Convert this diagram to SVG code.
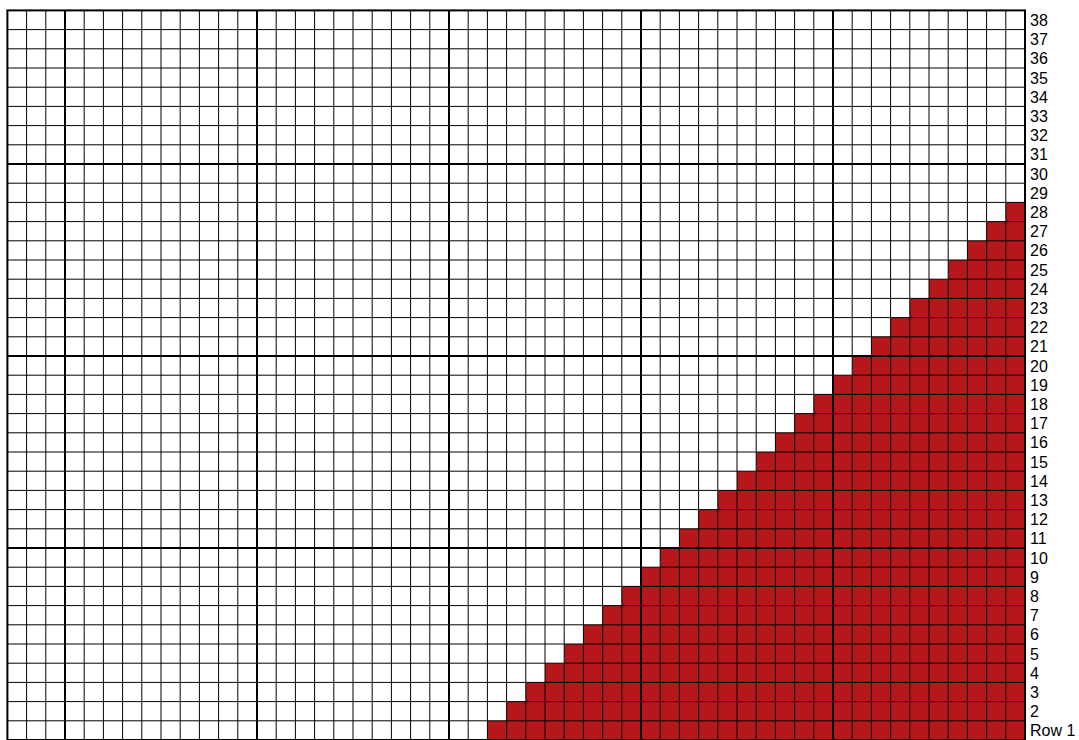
<svg xmlns="http://www.w3.org/2000/svg" width="1079" height="740" viewBox="0 0 1079 740">
<style>
.thin{fill:none;stroke:#000;stroke-width:1}
.thick{fill:none;stroke:#000;stroke-width:2}
.fill{fill:#B5171A;stroke:none}
.lbl{font-family:"Liberation Sans",Arial,sans-serif;font-size:16px;fill:#000}
</style>
<rect x="0" y="0" width="1079" height="740" fill="#fff"/>
<g id="filled-cells">
<path class="fill" d="M1025 740V202.4H1005.8V221.6H986.6V240.8H967.4V260H948.2V279.2H929V298.4H909.8V317.6H890.6V336.8H871.4V356H852.2V375.2H833V394.4H813.8V413.6H794.6V432.8H775.4V452H756.2V471.2H737V490.4H717.8V509.6H698.6V528.8H679.4V548H660.2V567.2H641V586.4H621.8V605.6H602.6V624.8H583.4V644H564.2V663.2H545V682.4H525.8V701.6H506.6V720.8H487.4V740Z"/>
</g>
<g id="grid">
<path class="thin" d="M26.6 10.4V740M45.8 10.4V740M84.2 10.4V740M103.4 10.4V740M122.6 10.4V740M141.8 10.4V740M161 10.4V740M180.2 10.4V740M199.4 10.4V740M218.6 10.4V740M237.8 10.4V740M276.2 10.4V740M295.4 10.4V740M314.6 10.4V740M333.8 10.4V740M353 10.4V740M372.2 10.4V740M391.4 10.4V740M410.6 10.4V740M429.8 10.4V740M468.2 10.4V740M487.4 10.4V740M506.6 10.4V740M525.8 10.4V740M545 10.4V740M564.2 10.4V740M583.4 10.4V740M602.6 10.4V740M621.8 10.4V740M660.2 10.4V740M679.4 10.4V740M698.6 10.4V740M717.8 10.4V740M737 10.4V740M756.2 10.4V740M775.4 10.4V740M794.6 10.4V740M813.8 10.4V740M852.2 10.4V740M871.4 10.4V740M890.6 10.4V740M909.8 10.4V740M929 10.4V740M948.2 10.4V740M967.4 10.4V740M986.6 10.4V740M1005.8 10.4V740"/>
<path class="thin" d="M7.4 29.6H1025M7.4 48.8H1025M7.4 68H1025M7.4 87.2H1025M7.4 106.4H1025M7.4 125.6H1025M7.4 144.8H1025M7.4 183.2H1025M7.4 202.4H1025M7.4 221.6H1025M7.4 240.8H1025M7.4 260H1025M7.4 279.2H1025M7.4 298.4H1025M7.4 317.6H1025M7.4 336.8H1025M7.4 375.2H1025M7.4 394.4H1025M7.4 413.6H1025M7.4 432.8H1025M7.4 452H1025M7.4 471.2H1025M7.4 490.4H1025M7.4 509.6H1025M7.4 528.8H1025M7.4 567.2H1025M7.4 586.4H1025M7.4 605.6H1025M7.4 624.8H1025M7.4 644H1025M7.4 663.2H1025M7.4 682.4H1025M7.4 701.6H1025M7.4 720.8H1025"/>
<path class="thick" d="M65 10.4V740M257 10.4V740M449 10.4V740M641 10.4V740M833 10.4V740M7.4 164H1025M7.4 356H1025M7.4 548H1025"/>
<rect class="thick" x="7.4" y="10.4" width="1017.6" height="729.6"/>
</g>
<g id="row-labels" class="lbl">
<text x="1030" y="26">38</text>
<text x="1030" y="45.2">37</text>
<text x="1030" y="64.4">36</text>
<text x="1030" y="83.6">35</text>
<text x="1030" y="102.8">34</text>
<text x="1030" y="122">33</text>
<text x="1030" y="141.2">32</text>
<text x="1030" y="160.4">31</text>
<text x="1030" y="179.6">30</text>
<text x="1030" y="198.8">29</text>
<text x="1030" y="218">28</text>
<text x="1030" y="237.2">27</text>
<text x="1030" y="256.4">26</text>
<text x="1030" y="275.6">25</text>
<text x="1030" y="294.8">24</text>
<text x="1030" y="314">23</text>
<text x="1030" y="333.2">22</text>
<text x="1030" y="352.4">21</text>
<text x="1030" y="371.6">20</text>
<text x="1030" y="390.8">19</text>
<text x="1030" y="410">18</text>
<text x="1030" y="429.2">17</text>
<text x="1030" y="448.4">16</text>
<text x="1030" y="467.6">15</text>
<text x="1030" y="486.8">14</text>
<text x="1030" y="506">13</text>
<text x="1030" y="525.2">12</text>
<text x="1030" y="544.4">11</text>
<text x="1030" y="563.6">10</text>
<text x="1030" y="582.8">9</text>
<text x="1030" y="602">8</text>
<text x="1030" y="621.2">7</text>
<text x="1030" y="640.4">6</text>
<text x="1030" y="659.6">5</text>
<text x="1030" y="678.8">4</text>
<text x="1030" y="698">3</text>
<text x="1030" y="717.2">2</text>
<text x="1030" y="736.4">Row 1</text>
</g>
</svg>
